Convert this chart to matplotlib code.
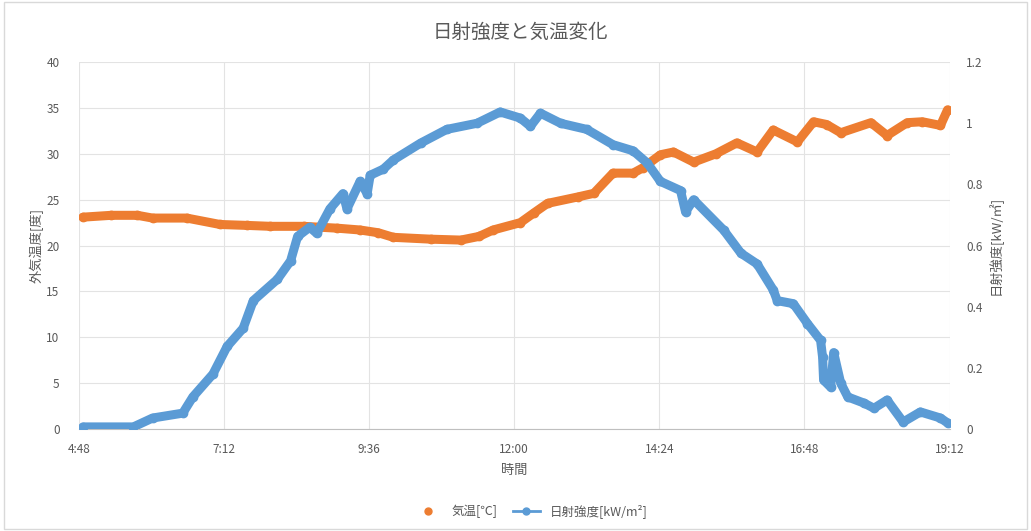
import matplotlib
matplotlib.use("Agg")
import numpy as np
import matplotlib.pyplot as plt
from matplotlib.lines import Line2D
from matplotlib.patches import Rectangle

plt.rcParams['font.family'] = ['Noto Sans CJK JP', 'DejaVu Sans']

# 気温 (外気温度)
t_temp = ["4:52", "5:20", "5:46", "6:01", "6:35", "7:08", "7:35", "7:58", "8:31",
          "9:04", "9:27", "9:45", "10:00", "10:37", "11:07", "11:25", "11:39", "12:06",
          "12:20", "12:33", "13:03", "13:19", "13:38", "13:58", "14:08", "14:25", "14:38",
          "14:58", "15:20", "15:41", "16:01", "16:17", "16:41", "16:57", "17:10", "17:24",
          "17:54", "18:10", "18:30", "18:45", "19:03", "19:10"]
temp = [23.1, 23.3, 23.3, 23.0, 23.0, 22.3, 22.2, 22.1, 22.1,
        21.9, 21.7, 21.4, 20.9, 20.7, 20.6, 21.0, 21.7, 22.5,
        23.6, 24.6, 25.3, 25.7, 27.9, 27.9, 28.5, 29.9, 30.2,
        29.1, 30.0, 31.2, 30.2, 32.6, 31.3, 33.5, 33.2, 32.3,
        33.4, 32.0, 33.4, 33.5, 33.1, 34.8]

# 日射強度
t_sun = ["4:52", "5:42", "6:01", "6:31", "6:41", "7:01", "7:15", "7:31", "7:41",
         "8:05", "8:18", "8:25", "8:37", "8:44", "8:57", "9:10", "9:14", "9:27",
         "9:34", "9:37", "9:50", "10:00", "10:27", "10:53", "11:23", "11:46", "12:06", "12:16",
         "12:26", "12:46", "13:12", "13:38", "13:58", "14:12", "14:25", "14:45", "14:50",
         "14:58", "15:28", "15:45", "16:01", "16:17", "16:21", "16:37", "16:51", "17:04",
         "17:06", "17:07", "17:14", "17:17", "17:24", "17:31", "17:47", "17:57", "18:10",
         "18:26", "18:43", "19:03", "19:10"]
sun = [0.007, 0.007, 0.036, 0.052, 0.105, 0.18, 0.27, 0.33, 0.42,
       0.49, 0.55, 0.63, 0.66, 0.64, 0.72, 0.77, 0.72, 0.81,
       0.77, 0.83, 0.85, 0.88, 0.935, 0.98, 1.00, 1.037, 1.017, 0.99,
       1.033, 1.00, 0.98, 0.93, 0.91, 0.87, 0.81, 0.78, 0.71,
       0.75, 0.65, 0.575, 0.54, 0.455, 0.42, 0.41, 0.345, 0.29,
       0.235, 0.16, 0.137, 0.25, 0.15, 0.105, 0.085, 0.068, 0.095,
       0.023, 0.056, 0.036, 0.02]

x_labels = ["4:48", "7:12", "9:36", "12:00", "14:24", "16:48", "19:12"]


def hours(s):
    h, m = s.split(":")
    return int(h) + int(m) / 60.0


orange = '#ED7D31'
blue = '#5B9BD5'
grey = '#595959'
grid = '#E3E3E3'

fig = plt.figure(figsize=(10.31, 5.31), dpi=100)
fig.patches.append(Rectangle((0.004, 0.004), 0.992, 0.992, transform=fig.transFigure,
                             fill=False, edgecolor='#D9D9D9', lw=1))
ax = fig.add_axes([0.0766, 0.192, 0.8444, 0.691])
ax2 = ax.twinx()

xt = [hours(s) for s in x_labels]
ax.plot([hours(s) for s in t_temp], temp, color=orange, lw=6.5, marker='o', ms=6,
        solid_capstyle='round', solid_joinstyle='round', zorder=3)
ax2.plot([hours(s) for s in t_sun], sun, color=blue, lw=6.5, marker='o', ms=6,
         solid_capstyle='round', solid_joinstyle='round', zorder=3)

ax.set_xlim(xt[0], xt[-1])
ax.set_ylim(0, 40)
ax2.set_ylim(0, 1.2)
ax.set_xticks(xt)
ax.set_xticklabels(x_labels)
ax.set_yticks(np.arange(0, 41, 5))
ax2.set_yticks([0, 0.2, 0.4, 0.6, 0.8, 1.0, 1.2])
ax2.set_yticklabels(["0", "0.2", "0.4", "0.6", "0.8", "1", "1.2"])

ax.grid(True, color=grid, lw=0.8)
ax.set_axisbelow(True)
for a in (ax, ax2):
    for sp in a.spines.values():
        sp.set_visible(False)
    a.tick_params(length=0, colors=grey, labelsize=8.5)
ax.spines['bottom'].set_visible(True)
ax.spines['bottom'].set_color('#BFBFBF')
ax.tick_params(axis='x', pad=10)
ax.tick_params(axis='y', pad=14)
ax2.tick_params(axis='y', pad=12)

ax.set_xlabel("時間", color=grey, fontsize=9.5, labelpad=6)
ax.set_ylabel("外気温度[度]", color=grey, fontsize=9.5, labelpad=2)
ax2.set_ylabel("日射強度[kW/㎡]", color=grey, fontsize=9.5, rotation=90, labelpad=4)
fig.text(0.505, 0.94, "日射強度と気温変化", ha='center', va='center', fontsize=14, color=grey)

handles = [Line2D([], [], color=orange, marker='o', ms=5, lw=0),
           Line2D([], [], color=blue, marker='o', ms=5, lw=2)]
fig.legend(handles, ["気温[℃]", "日射強度[kW/m²]"], loc='center', bbox_to_anchor=(0.515, 0.037),
           ncol=2, frameon=False, fontsize=9, labelcolor=grey, handlelength=2.2,
           columnspacing=1.2)

fig.savefig("out.png", dpi=100)
